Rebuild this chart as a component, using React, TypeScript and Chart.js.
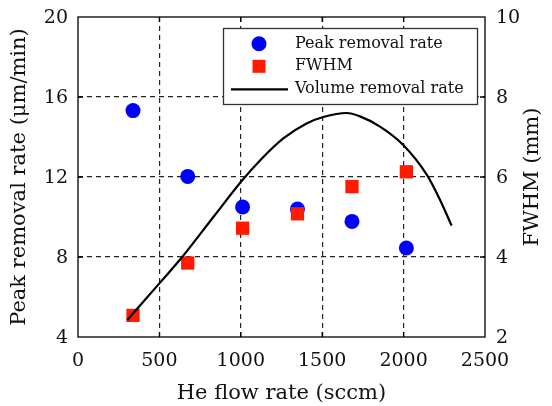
import React, { useEffect, useRef } from "react";
import { Chart, registerables } from "chart.js";

Chart.register(...registerables);

// ---- data ----
const flowRate = [338, 674, 1011, 1348, 1683, 2017];
const peakRemovalRate = [15.32, 12.03, 10.5, 10.4, 9.78, 8.45];
const fwhm = [2.54, 3.85, 4.72, 5.08, 5.76, 6.13];
const volumeFlow = [303, 504, 640, 841, 1005, 1118, 1261, 1404, 1507, 1650, 1732, 1855, 1998, 2145, 2224, 2295];
const volumeRate = [4.85, 6.72, 8.0, 10.1, 11.8, 12.83, 13.93, 14.68, 15.0, 15.2, 15.03, 14.52, 13.6, 12.08, 10.85, 9.57];
const xTicks = [0, 500, 1000, 1500, 2000, 2500];
const leftTicks = [4, 8, 12, 16, 20];
const rightTicks = [2, 4, 6, 8, 10];
const seriesLabels = ["Peak removal rate", "FWHM", "Volume removal rate"];
const xTitle = "He flow rate (sccm)";
const leftTitle = "Peak removal rate (μm/min)";
const rightTitle = "FWHM (mm)";

const FONT = "'DejaVu Serif', serif";
const INK = "#111";
const BLUE = "#0000ff";
const RED = "#ff1a00";

const framePlugin = {
  id: "frameAndLegend",
  beforeDatasetsDraw(chart: any) {
    const { ctx, chartArea, scales } = chart;
    const { left, right, top, bottom } = chartArea;
    ctx.save();
    ctx.strokeStyle = "#000";
    ctx.lineWidth = 1.3;
    ctx.setLineDash([]);
    ctx.strokeRect(left, top, right - left, bottom - top);
    const L = 5;
    ctx.beginPath();
    xTicks.slice(1, -1).forEach((v) => {
      const x = scales.x.getPixelForValue(v);
      ctx.moveTo(x, bottom);
      ctx.lineTo(x, bottom - L);
      ctx.moveTo(x, top);
      ctx.lineTo(x, top + L);
    });
    leftTicks.slice(1, -1).forEach((v) => {
      const y = scales.y.getPixelForValue(v);
      ctx.moveTo(left, y);
      ctx.lineTo(left + L, y);
    });
    rightTicks.slice(1, -1).forEach((v) => {
      const y = scales.y2.getPixelForValue(v);
      ctx.moveTo(right, y);
      ctx.lineTo(right - L, y);
    });
    ctx.stroke();
    ctx.restore();
  },
  afterDraw(chart: any) {
    const { ctx, chartArea } = chart;
    ctx.save();
    // right axis title, reading bottom to top
    ctx.translate(533, (chartArea.top + chartArea.bottom) / 2);
    ctx.rotate(-Math.PI / 2);
    ctx.font = `21px ${FONT}`;
    ctx.fillStyle = INK;
    ctx.textAlign = "center";
    ctx.textBaseline = "middle";
    ctx.fillText(rightTitle, 0, 0);
    ctx.restore();

    // legend
    const bx = 223, by = 28, bw = 254, bh = 76;
    ctx.save();
    ctx.fillStyle = "#fff";
    ctx.fillRect(bx, by, bw, bh);
    ctx.strokeStyle = "#333";
    ctx.lineWidth = 1.3;
    ctx.strokeRect(bx + 0.5, by + 0.5, bw, bh);
    const rows = [by + 15.7, by + 38.3, by + 61.3];
    const mx = bx + 36;
    ctx.fillStyle = BLUE;
    ctx.beginPath();
    ctx.arc(mx, rows[0], 7.5, 0, Math.PI * 2);
    ctx.fill();
    ctx.fillStyle = RED;
    ctx.fillRect(mx - 6.5, rows[1] - 6.5, 13, 13);
    ctx.strokeStyle = "#000";
    ctx.lineWidth = 2.2;
    ctx.beginPath();
    ctx.moveTo(bx + 8, rows[2]);
    ctx.lineTo(bx + 65, rows[2]);
    ctx.stroke();
    ctx.font = `16px ${FONT}`;
    ctx.fillStyle = INK;
    ctx.textAlign = "left";
    ctx.textBaseline = "middle";
    seriesLabels.forEach((t, i) => ctx.fillText(t, bx + 72, rows[i]));
    ctx.restore();
  },
};

const gridColor = (edgeVals: number[]) => (c: any) =>
  c.tick && edgeVals.includes(c.tick.value) ? "rgba(0,0,0,0)" : "#222";

const plain = (v: any) => String(v);

export default function App() {
  const ref = useRef<HTMLCanvasElement | null>(null);

  useEffect(() => {
    document.body.style.margin = "0";
    const canvas = ref.current;
    if (!canvas) return;
    const chart = new Chart(canvas, {
      type: "scatter",
      data: {
        datasets: [
          {
            type: "line",
            label: seriesLabels[2],
            data: volumeFlow.map((x, i) => ({ x, y: volumeRate[i] })),
            borderColor: "#000",
            borderWidth: 2.2,
            pointRadius: 0,
            showLine: true,
            fill: false,
            cubicInterpolationMode: "monotone",
            yAxisID: "y",
          } as any,
          {
            label: seriesLabels[1],
            data: flowRate.map((x, i) => ({ x, y: fwhm[i] })),
            backgroundColor: RED,
            borderColor: RED,
            borderWidth: 0,
            pointStyle: "rect",
            pointRadius: 9.4,
            yAxisID: "y2",
          },
          {
            label: seriesLabels[0],
            data: flowRate.map((x, i) => ({ x, y: peakRemovalRate[i] })),
            backgroundColor: BLUE,
            borderColor: BLUE,
            borderWidth: 0,
            pointStyle: "circle",
            pointRadius: 7.5,
            yAxisID: "y",
          },
        ],
      },
      options: {
        animation: false,
        responsive: false,
        events: [],
        layout: { padding: { top: 17, left: 0, right: 0, bottom: 0 } },
        plugins: {
          legend: { display: false },
          tooltip: { enabled: false },
        },
        scales: {
          x: {
            type: "linear",
            position: "bottom",
            min: xTicks[0],
            max: xTicks[xTicks.length - 1],
            afterBuildTicks: (s: any) => {
              s.ticks = xTicks.map((v) => ({ value: v }));
            },
            afterFit: (s: any) => {
              s.height = 69;
              s.paddingLeft = 0;
              s.paddingRight = 0;
            },
            ticks: {
              font: { family: FONT, size: 19 },
              color: INK,
              padding: 13,
              maxRotation: 0,
              callback: plain,
            },
            grid: {
              color: gridColor([xTicks[0], xTicks[xTicks.length - 1]]),
              lineWidth: 1.2,
              drawTicks: false,
            },
            border: { display: false, dash: [5, 4] },
            title: {
              display: true,
              text: xTitle,
              font: { family: FONT, size: 21 },
              color: INK,
              padding: { top: 0, bottom: 0 },
            },
          },
          y: {
            type: "linear",
            position: "left",
            min: leftTicks[0],
            max: leftTicks[leftTicks.length - 1],
            afterBuildTicks: (s: any) => {
              s.ticks = leftTicks.map((v) => ({ value: v }));
            },
            afterFit: (s: any) => {
              s.width = 78;
              s.paddingTop = 0;
              s.paddingBottom = 0;
            },
            ticks: {
              font: { family: FONT, size: 19 },
              color: INK,
              padding: 10,
              labelOffset: 1.5,
              callback: plain,
            },
            grid: {
              color: gridColor([leftTicks[0], leftTicks[leftTicks.length - 1]]),
              lineWidth: 1.2,
              drawTicks: false,
            },
            border: { display: false, dash: [5, 4] },
            title: {
              display: true,
              text: leftTitle,
              font: { family: FONT, size: 21 },
              color: INK,
              padding: { top: 7, bottom: 0 },
            },
          },
          y2: {
            type: "linear",
            position: "right",
            min: rightTicks[0],
            max: rightTicks[rightTicks.length - 1],
            afterBuildTicks: (s: any) => {
              s.ticks = rightTicks.map((v) => ({ value: v }));
            },
            afterFit: (s: any) => {
              s.width = 67;
              s.paddingTop = 0;
              s.paddingBottom = 0;
            },
            ticks: {
              font: { family: FONT, size: 19 },
              color: INK,
              padding: 11,
              labelOffset: 1.5,
              callback: plain,
            },
            grid: { display: false, drawTicks: false },
            border: { display: false },
          },
        },
      },
      plugins: [framePlugin],
    });
    return () => chart.destroy();
  }, []);

  return (
    <div style={{ width: 552, height: 406 }}>
      <canvas ref={ref} width={552} height={406} style={{ display: "block" }} />
    </div>
  );
}
